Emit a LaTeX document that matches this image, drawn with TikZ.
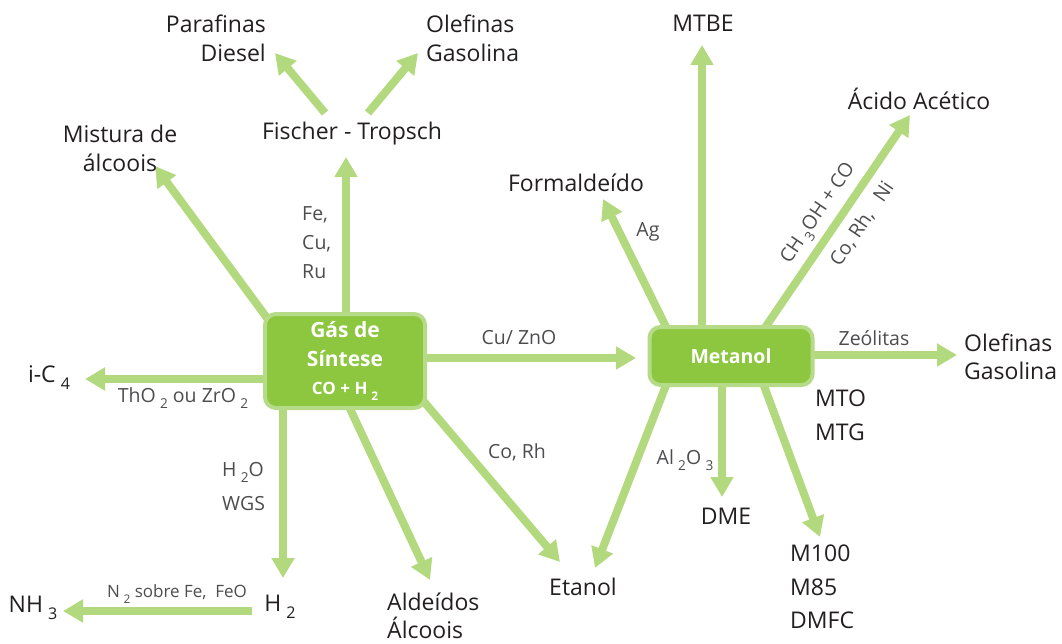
\documentclass[tikz,border=0pt]{standalone}
\usepackage{fontspec}
\setmainfont{Open Sans}
\usetikzlibrary{arrows.meta,backgrounds,calc}
\definecolor{arrowgreen}{HTML}{B3D97F}
\definecolor{boxgreen}{HTML}{8DC63F}
\definecolor{boxedge}{HTML}{B5DB88}
\definecolor{ink}{HTML}{231F20}
\definecolor{catink}{HTML}{4D4D4F}
\newcommand{\lsub}[1]{\kern0.22em\raisebox{-0.3em}{\fontsize{0.7em}{1em}\selectfont #1}}
\tikzset{
  arr/.style={draw=arrowgreen, line width=8pt, -{Triangle[length=20pt,width=22pt]}},
  txt/.style={text=ink, inner sep=0pt, font=\fontsize{23}{29}\selectfont},
  cat/.style={text=catink, inner sep=0pt, font=\fontsize{19.5}{34}\selectfont},
  box/.style={draw=boxedge, line width=4pt, fill=boxgreen, rounded corners=11pt, text=white, font=\bfseries\fontsize{19.5}{28}\selectfont, align=center, inner sep=0pt}
}
\begin{document}
\begin{tikzpicture}[x=1pt,y=1pt]
\useasboundingbox (0,0) rectangle (1062,-644);
% boxes
\node[box, minimum width=160pt, minimum height=94pt, font=\bfseries\fontsize{21}{28.5}\selectfont] (gas) at (345,-361) {Gás de\\Síntese\\{\fontsize{17}{20}\selectfont CO + H\lsub{2}}};
\node[box, minimum width=163pt, minimum height=58pt] (met) at (731,-356) {Metanol};
% text nodes
\node[txt] (ft) at (352,-134) {Fischer - Tropsch};
\node[txt, anchor=east, align=right] (paraf) at (266,-38) {Parafinas\\Diesel};
\node[txt, anchor=west, align=left] (olef1) at (426,-38) {Olefinas\\Gasolina};
\node[txt, align=center] (mist) at (120,-148) {Mistura de\\álcoois};
\node[cat, anchor=west, align=left, font=\fontsize{19.5}{29}\selectfont] (fecu) at (302,-243) {Fe,\\Cu,\\Ru};
\node[txt] (ic4) at (49,-378) {i-C\lsub{4}};
\node[cat] (tho) at (183,-398) {ThO\lsub{2} ou ZrO\lsub{2}};
\node[cat, anchor=west, align=left] (wgs) at (222,-487) {H\lsub{2}O\\WGS};
\node[txt] (h2) at (280,-607) {H\lsub{2}};
\node[txt] (nh3) at (33,-608) {NH\lsub{3}};
\node[cat, font=\fontsize{17}{18}\selectfont] (n2) at (177,-594) {N\lsub{2} sobre Fe,~ FeO};
\node[txt, anchor=west, align=left, font=\fontsize{23}{28}\selectfont] (ald) at (387,-616) {Aldeídos\\Álcoois};
\node[cat] (corh) at (517,-452) {Co, Rh};
\node[txt] (etanol) at (583,-587) {Etanol};
\node[cat] (cuzno) at (519,-338) {Cu/ ZnO};
\node[txt] (mtbe) at (703,-23) {MTBE};
\node[txt] (form) at (576,-183) {Formaldeído};
\node[cat] (ag) at (648,-232) {Ag};
\node[txt] (acido) at (919,-99) {Ácido Acético};
\node[cat, rotate=56] (ch3oh) at (819,-214) {CH\lsub{3}OH + CO};
\node[cat, rotate=56] (corhni) at (862,-224) {Co, Rh,~~~Ni};
\node[cat] (zeo) at (874,-338) {Zeólitas};
\node[txt, anchor=west, align=left, font=\fontsize{23}{28}\selectfont] (olef2) at (964,-357) {Olefinas\\Gasolina};
\node[txt, anchor=west, align=left, font=\fontsize{23}{34}\selectfont] (mto) at (815,-415) {MTO\\MTG};
\node[cat] (al2o3) at (685,-460) {Al\lsub{2}O\lsub{3}};
\node[txt] (dme) at (726,-516) {DME};
\node[txt, anchor=west, align=left, font=\fontsize{23}{33.5}\selectfont] (m100) at (790,-587) {M100\\M85\\DMFC};
% arrow tips
\coordinate (tFT) at (346,-157);
\coordinate (tPar) at (275,-53);
\coordinate (tOle) at (418,-53);
\coordinate (tMis) at (155,-166);
\coordinate (tIC4) at (85,-379);
\coordinate (tH2) at (283,-578);
\coordinate (tNH3) at (63,-611);
\coordinate (sNH3) at (252,-611);
\coordinate (tAld) at (430,-580);
\coordinate (tCoRh) at (560,-562);
\coordinate (tMet) at (636,-358);
\coordinate (tMTBE) at (702,-45);
\coordinate (tForm) at (603,-199);
\coordinate (tAc) at (910,-115);
\coordinate (tZeo) at (957,-355);
\coordinate (tDME) at (722,-497);
\coordinate (tM100) at (820,-537);
\coordinate (tEt) at (595,-568);
\begin{scope}[on background layer]
\draw[arr] ($(gas)+(1,31)$) -- (tFT);
\draw[arr] ($(ft)+(-27,21)$) -- (tPar);
\draw[arr] ($(ft)+(16,21)$) -- (tOle);
\draw[arr] ($(gas)+(-75,39)$) -- (tMis);
\draw[arr] ($(gas)+(-65,-18)$) -- (tIC4);
\draw[arr] ($(gas)+(-62,-39)$) -- (tH2);
\draw[arr] (sNH3) -- (tNH3);
\draw[arr] ($(gas)+(0,-37)$) -- (tAld);
\draw[arr] ($(gas)+(75,-36)$) -- (tCoRh);
\draw[arr] ($(gas)+(75,3)$) -- (tMet);
\draw[arr] ($(met)+(-29,16)$) -- (tMTBE);
\draw[arr] ($(met)+(-61,21)$) -- (tForm);
\draw[arr] ($(met)+(29,21)$) -- (tAc);
\draw[arr] ($(met)+(69,1)$) -- (tZeo);
\draw[arr] ($(met)+(-9,-14)$) -- (tDME);
\draw[arr] ($(met)+(29,-19)$) -- (tM100);
\draw[arr] ($(met)+(-61,-19)$) -- (tEt);
\end{scope}
\end{tikzpicture}
\end{document}
